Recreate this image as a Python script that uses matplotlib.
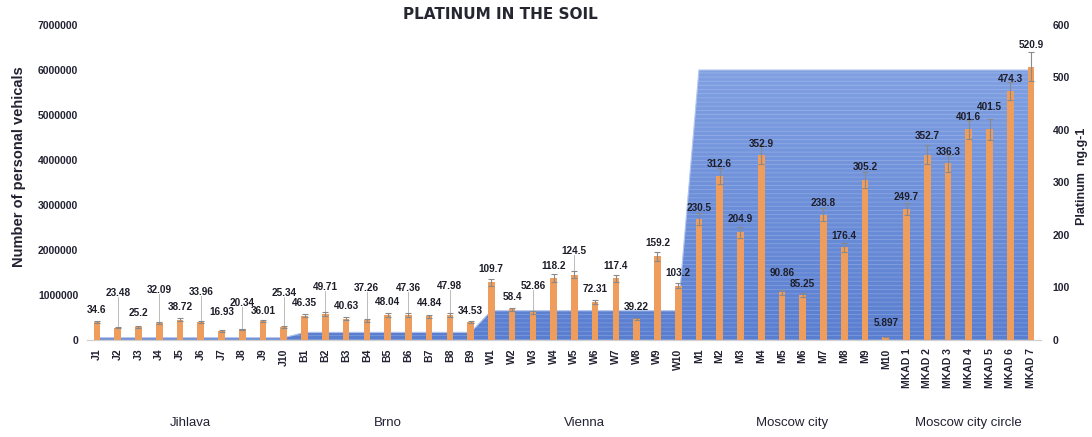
import matplotlib.pyplot as plt
import numpy as np
from matplotlib.ticker import MultipleLocator, FuncFormatter
from matplotlib.colors import LinearSegmentedColormap

plt.rcParams['font.family'] = ['Liberation Sans', 'DejaVu Sans']

# sample sites, grouped by city
groups = ["Jihlava", "Brno", "Vienna", "Moscow city", "Moscow city circle"]
sites = [
    ["J1", "J2", "J3", "J4", "J5", "J6", "J7", "J8", "J9", "J10"],
    ["B1", "B2", "B3", "B4", "B5", "B6", "B7", "B8", "B9"],
    ["W1", "W2", "W3", "W4", "W5", "W6", "W7", "W8", "W9", "W10"],
    ["M1", "M2", "M3", "M4", "M5", "M6", "M7", "M8", "M9", "M10"],
    ["MKAD 1", "MKAD 2", "MKAD 3", "MKAD 4", "MKAD 5", "MKAD 6", "MKAD 7"],
]

# platinum in soil, ng/g
platinum = [
    34.6, 23.48, 25.2, 32.09, 38.72, 33.96, 16.93, 20.34, 36.01, 25.34,
    46.35, 49.71, 40.63, 37.26, 48.04, 47.36, 44.84, 47.98, 34.53,
    109.7, 58.4, 52.86, 118.2, 124.5, 72.31, 117.4, 39.22, 159.2, 103.2,
    230.5, 312.6, 204.9, 352.9, 90.86, 85.25, 238.8, 176.4, 305.2, 5.897,
    249.7, 352.7, 336.3, 401.6, 401.5, 474.3, 520.9,
]
platinum_err = [
    2.5, 1.5, 1.5, 2.5, 2.5, 2.5, 1.2, 1.5, 2.5, 2.0,
    3.0, 4.0, 3.0, 2.5, 3.5, 3.5, 3.0, 3.5, 2.0,
    6.0, 3.0, 3.0, 7.0, 6.0, 4.0, 6.0, 2.0, 8.0, 5.0,
    12.0, 15.0, 10.0, 18.0, 5.0, 4.0, 12.0, 9.0, 15.0, 0.5,
    12.0, 18.0, 17.0, 18.0, 20.0, 18.0, 28.0,
]

# personal vehicles per city
vehicles = [50000, 170000, 650000, 6000000, 6000000]

# label heights (right-axis units) and which labels hang on a leader line
label_y = [
    57, 90, 51, 95, 63, 91, 53, 70, 55, 90,
    70, 101, 65, 99, 72, 99, 70, 103, 55,
    135, 82, 103, 141, 170, 97, 141, 63, 185, 128,
    251, 335, 230, 373, 128, 107, 261, 198, 330, 32,
    272, 389, 358, 425, 444, 497, 562,
]
leader = {1, 3, 5, 7, 9, 11, 13, 15, 17, 21, 23}

names = [s for g in sites for s in g]
x = np.arange(len(names))
area_y = np.concatenate([[v] * len(g) for v, g in zip(vehicles, sites)])

fig = plt.figure(figsize=(10.92, 4.37), dpi=100)
ax = fig.add_axes([0.0793, 0.222, 0.8744, 0.7208])
ax2 = ax.twinx()

# vehicle counts as a gradient-filled, striped area
poly = ax.fill_between(x, 0, area_y, facecolor='none', edgecolor='none')
grad = np.linspace(0, 1, 256).reshape(-1, 1)
cmap = LinearSegmentedColormap.from_list('blu', ['#5a7ed0', '#80a0e2'])
im = ax.imshow(grad, cmap=cmap, origin='lower', aspect='auto',
               extent=[x[0], x[-1], 0, max(vehicles)], zorder=1)
im.set_clip_path(poly.get_paths()[0], transform=ax.transData)
plt.rcParams['hatch.linewidth'] = 0.6
ax.fill_between(x, 0, area_y, facecolor='none', edgecolor=(1, 1, 1, 0.2),
                hatch='----', linewidth=0, zorder=2)
ax.plot(x, area_y, color='#b4c6ee', lw=0.8, zorder=3)

ax.set_xlim(-0.5, len(names) - 0.5)
ax.set_ylim(0, 7000000)
ax.yaxis.set_major_locator(MultipleLocator(1000000))
ax.yaxis.set_major_formatter(FuncFormatter(lambda v, p: f"{int(v)}"))

# platinum bars with error bars
ax2.bar(x, platinum, width=0.32, color='#ef9d5c', zorder=3)
ax2.errorbar(x, platinum, yerr=platinum_err, fmt='none', ecolor='#8a8a8a',
             elinewidth=0.8, capsize=2, capthick=0.8, zorder=4)
for i, (v, ly) in enumerate(zip(platinum, label_y)):
    ax2.text(x[i], ly, f"{v:g}", ha='center', va='center', fontsize=7.2,
             fontweight='bold', color='#1e1e2a', zorder=5)
    if i in leader:
        ax2.plot([x[i], x[i]], [v + platinum_err[i], ly - 8], color='#b0b0b0',
                 lw=0.6, zorder=2)
ax2.set_ylim(0, 600)
ax2.yaxis.set_major_locator(MultipleLocator(100))

for a in (ax, ax2):
    for s in ('top', 'left', 'right'):
        a.spines[s].set_visible(False)
    a.spines['bottom'].set_color('#d0d0d0')
    a.tick_params(length=0, labelsize=7.5)
    for t in a.get_yticklabels():
        t.set_fontweight('bold')
        t.set_color('#222233')
ax.tick_params(axis='y', pad=6)
ax2.tick_params(axis='y', pad=8)

ax.set_xticks(x)
ax.set_xticklabels(names, rotation=90, fontsize=7.5, fontweight='bold', color='#222233')
ax.tick_params(axis='x', pad=6)

# city names under each group of sites
start = 0
for g, s in zip(groups, sites):
    c = start + (len(s) - 1) / 2
    ax.text(c, -0.263, g, transform=ax.get_xaxis_transform(), ha='center',
            va='center', fontsize=9.5, color='#222233')
    start += len(s)

fig.text(0.458, 0.966, "PLATINUM IN THE SOIL", ha='center', va='center',
         fontsize=11, fontweight='bold', color='#262630', family='DejaVu Sans')
fig.text(0.017, 0.618, "Number of personal vehicals", rotation=90, ha='center',
         va='center', fontsize=10.5, fontweight='bold', color='#222233')
fig.text(0.991, 0.597, "Platinum  ng.g-1", rotation=90, ha='center',
         va='center', fontsize=9, fontweight='bold', color='#222233')

fig.savefig("out.png", dpi=100)
